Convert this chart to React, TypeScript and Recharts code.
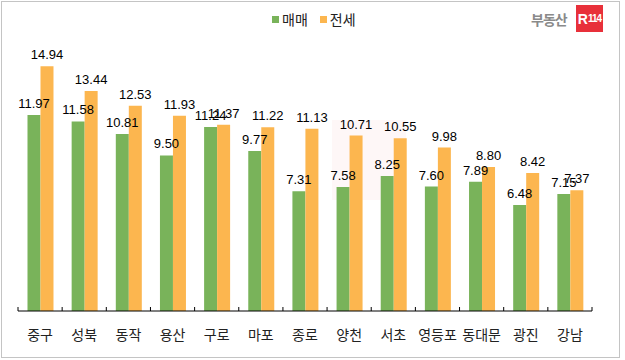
import { BarChart, Bar, XAxis, YAxis, LabelList } from "recharts";

const districts = ["중구", "성북", "동작", "용산", "구로", "마포", "종로", "양천", "서초", "영등포", "동대문", "광진", "강남"];
const sale = [11.97, 11.58, 10.81, 9.5, 11.24, 9.77, 7.31, 7.58, 8.25, 7.6, 7.89, 6.48, 7.15];
const jeonse = [14.94, 13.44, 12.53, 11.93, 11.37, 11.22, 11.13, 10.71, 10.55, 9.98, 8.8, 8.42, 7.37];

const GREEN = "#79b35a";
const ORANGE = "#fcb64f";
const TICK_MARGIN = 19;

const data = districts.map((d, i) => ({ name: d, sale: sale[i], jeonse: jeonse[i] }));

const labelStyle = { fontSize: 13, fill: "#000", fontFamily: "'Liberation Sans', Arial, sans-serif" };

// category label + small boundary tick marks between categories (Excel style)
function CatTick(props: any) {
  const { x, y, payload, index, visibleTicksCount } = props;
  const half = payload.offset ?? 0;
  const axisY = y - TICK_MARGIN;
  const isLast = index === visibleTicksCount - 1;
  return (
    <g>
      <line x1={x - half} x2={x - half} y1={axisY} y2={axisY - 4} stroke="#000" />
      {isLast && <line x1={x + half} x2={x + half} y1={axisY} y2={axisY - 4} stroke="#000" />}
      <text x={x} y={y} dy="0.71em" textAnchor="middle" fontSize={14} fill="#222" fontFamily="'Noto Sans CJK KR', sans-serif">
        {payload.value}
      </text>
    </g>
  );
}

export default function App() {
  return (
    <div style={{ position: "absolute", left: 0, top: 0, width: 625, height: 360, background: "white" }}>
      <div style={{ position: "absolute", left: 1, top: 1, width: 617, height: 355, border: "1px solid #c4c4c4" }} />

      {/* faint watermark box */}
      <div style={{ position: "absolute", left: 332, top: 120, width: 74, height: 80, background: "rgba(240,120,120,0.06)" }} />

      {/* legend */}
      <div style={{ position: "absolute", left: 272, top: 9, display: "flex", alignItems: "center", fontFamily: "'Noto Sans CJK KR', sans-serif", fontSize: 14, color: "#222" }}>
        <span style={{ width: 7, height: 7, background: GREEN, marginRight: 3 }} />
        <span style={{ marginRight: 12 }}>매매</span>
        <span style={{ width: 7, height: 7, background: ORANGE, marginRight: 3 }} />
        <span>전세</span>
      </div>

      {/* logo */}
      <div style={{ position: "absolute", left: 531, top: 9, fontFamily: "'Noto Sans CJK KR', sans-serif", fontSize: 14, fontWeight: 700, color: "#8a8a8a", letterSpacing: -1 }}>부동산</div>
      <div style={{ position: "absolute", left: 576, top: 5, width: 27, height: 27, background: "#e8303a", color: "white", fontFamily: "'Liberation Sans', Arial, sans-serif", fontWeight: 700, display: "flex", alignItems: "center", justifyContent: "center" }}>
        <span style={{ fontSize: 14 }}>R</span><span style={{ fontSize: 10, letterSpacing: -1 }}>114</span>
      </div>

      <BarChart width={625} height={360} data={data} margin={{ top: 49, right: 33, bottom: 19, left: 18 }} barCategoryGap="21.5%" barGap={0} style={{ position: "absolute", left: 0, top: 0 }}>
        <XAxis dataKey="name" height={30} axisLine={{ stroke: "#000" }} tickLine={false} tickSize={0} tickMargin={TICK_MARGIN} interval={0} tick={<CatTick />} />
        <YAxis hide domain={[0, 16]} />
        <Bar dataKey="sale" fill={GREEN} isAnimationActive={false}>
          <LabelList dataKey="sale" position="top" offset={7} formatter={(v: number) => v.toFixed(2)} style={labelStyle} />
        </Bar>
        <Bar dataKey="jeonse" fill={ORANGE} isAnimationActive={false}>
          <LabelList dataKey="jeonse" position="top" offset={7} formatter={(v: number) => v.toFixed(2)} style={labelStyle} />
        </Bar>
      </BarChart>
    </div>
  );
}
